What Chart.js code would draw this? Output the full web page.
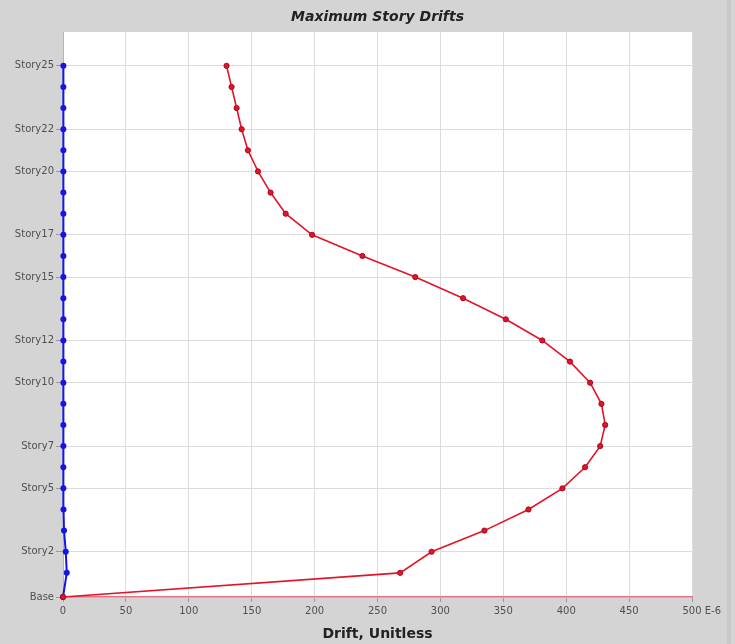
<!DOCTYPE html>
<html>
<head>
<meta charset="utf-8">
<script src="https://cdn.jsdelivr.net/npm/chart.js@4/dist/chart.umd.min.js"></script>
<style>
html,body{margin:0;padding:0;background:#d4d4d4;}
canvas{display:block;}
</style>
</head>
<body>
<canvas id="c" width="735" height="644"></canvas>
<script>
// Story names (bottom to top)
const stories = ['Base','Story1','Story2','Story3','Story4','Story5','Story6','Story7','Story8','Story9','Story10',
  'Story11','Story12','Story13','Story14','Story15','Story16','Story17','Story18','Story19','Story20',
  'Story21','Story22','Story23','Story24','Story25'];
// Story elevations (m)
const elevations = [0, 4, 7.5, 11, 14.5, 18, 21.5, 25, 28.5, 32, 35.5, 39, 42.5, 46, 49.5, 53, 56.5, 60, 63.5, 67, 70.5, 74, 77.5, 81, 84.5, 88];
// Drift values (E-6)
const driftRed = [0, 268, 293, 335, 370, 397, 415, 427, 431, 428, 419, 403, 381, 352, 318, 280, 238, 198, 177, 165, 155, 147, 142, 138, 134, 130];
const driftBlue = [0, 3, 2.2, 0.8, 0.4, 0.3, 0.3, 0.3, 0.3, 0.3, 0.3, 0.3, 0.3, 0.3, 0.3, 0.3, 0.3, 0.3, 0.3, 0.3, 0.3, 0.3, 0.3, 0.3, 0.3, 0.3];
// Labeled y ticks
const tickStories = ['Story25','Story22','Story20','Story17','Story15','Story12','Story10','Story7','Story5','Story2','Base'];
// X ticks
const xTicks = [0, 50, 100, 150, 200, 250, 300, 350, 400, 450, 500];
const xUnit = 'E-6';

const redPts = stories.map((s, i) => ({x: driftRed[i], y: elevations[i]}));
const bluePts = stories.map((s, i) => ({x: driftBlue[i], y: elevations[i]}));

const bgPlugin = {
  id: 'bg',
  beforeDraw(chart) {
    const {ctx, chartArea: a} = chart;
    ctx.save();
    ctx.fillStyle = '#d4d4d4';
    ctx.fillRect(0, 0, chart.width, chart.height);
    ctx.fillStyle = '#c8c8c8';
    ctx.fillRect(727, 0, 4, chart.height);
    ctx.fillStyle = '#ffffff';
    ctx.fillRect(a.left, a.top, a.right - a.left, a.bottom - a.top);
    ctx.restore();
  },
  afterDraw(chart) {
    const {ctx} = chart;
    const xs = chart.scales.x;
    const px = xs.getPixelForValue(xTicks[xTicks.length - 1]);
    ctx.save();
    ctx.font = '10px "DejaVu Sans"';
    ctx.fillStyle = '#505050';
    ctx.textAlign = 'left';
    ctx.textBaseline = 'middle';
    const w = ctx.measureText(String(xTicks[xTicks.length - 1])).width;
    ctx.fillText(' ' + xUnit, px + w / 2, 611.5);
    ctx.restore();
  }
};

new Chart(document.getElementById('c'), {
  type: 'scatter',
  data: {
    datasets: [
      {
        label: 'Red',
        data: redPts,
        showLine: true,
        borderColor: 'rgb(225,20,40)',
        backgroundColor: 'rgb(225,20,40)',
        pointBorderColor: 'rgb(170,10,30)',
        borderWidth: 1.6,
        pointRadius: 2.6,
        pointBorderWidth: 1,
        clip: false
      },
      {
        label: 'Blue',
        data: bluePts,
        showLine: true,
        borderColor: '#1414e6',
        backgroundColor: '#1414e6',
        borderWidth: 2,
        pointRadius: 3,
        pointBorderWidth: 0,
        clip: false
      }
    ]
  },
  options: {
    responsive: false,
    animation: false,
    devicePixelRatio: 1,
    layout: {padding: {left: 0, right: 43, top: 0, bottom: 0}},
    plugins: {
      legend: {display: false},
      tooltip: {enabled: false},
      title: {
        display: true,
        fullSize: false,
        text: 'Maximum Story Drifts',
        color: '#222',
        font: {family: '"DejaVu Sans"', size: 14, weight: 'bold', style: 'italic', lineHeight: 1.2},
        padding: {top: 8.6, bottom: 6.6}
      }
    },
    scales: {
      x: {
        type: 'linear',
        min: 0,
        max: 500,
        afterBuildTicks(scale) { scale.ticks = xTicks.map(v => ({value: v})); },
        afterFit(scale) { scale.height = 47; scale.paddingLeft = 0; scale.paddingRight = 0; },
        ticks: {
          color: '#505050',
          font: {family: '"DejaVu Sans"', size: 10},
          padding: 3,
          maxRotation: 0,
          autoSkip: false
        },
        grid: {color: '#dcdcdc', tickColor: '#9a9a9a', tickLength: 5, lineWidth: 1},
        border: {color: '#e87080', width: 1.5},
        title: {
          display: true,
          text: 'Drift, Unitless',
          color: '#222',
          font: {family: '"DejaVu Sans"', size: 14, weight: 'bold', lineHeight: 1.2},
          padding: {top: 0, bottom: 1.6}
        }
      },
      y: {
        type: 'linear',
        min: 0,
        max: 93.6,
        afterBuildTicks(scale) {
          scale.ticks = tickStories.map(n => ({value: elevations[stories.indexOf(n)]}));
        },
        afterFit(scale) { scale.width = 63; scale.paddingTop = 0; scale.paddingBottom = 0; },
        ticks: {
          color: '#505050',
          font: {family: '"DejaVu Sans"', size: 10},
          padding: 2,
          autoSkip: false,
          callback(v) {
            const i = elevations.indexOf(v);
            return i >= 0 ? stories[i] : '';
          }
        },
        grid: {color: '#dcdcdc', tickColor: '#9a9a9a', tickLength: 7, lineWidth: 1},
        border: {color: '#e8a0a8', width: 1}
      }
    }
  },
  plugins: [bgPlugin]
});
</script>
</body>
</html>
